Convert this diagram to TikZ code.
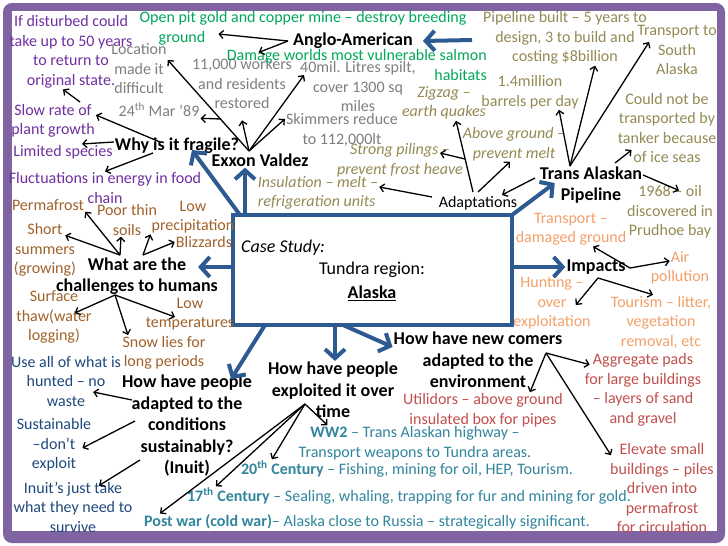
\documentclass[tikz,border=0pt]{standalone}
\usepackage{fontspec}
\setmainfont{Carlito}
\usetikzlibrary{arrows.meta}
\definecolor{framepurple}{HTML}{8064A2}
\definecolor{mapblue}{HTML}{2C5A91}
\definecolor{fragilepurple}{HTML}{7030A0}
\definecolor{anglogreen}{HTML}{00A85A}
\definecolor{exxongrey}{HTML}{7F7F7F}
\definecolor{pipeolive}{HTML}{948A54}
\definecolor{impactorange}{HTML}{F4A06A}
\definecolor{challbrown}{HTML}{A0622A}
\definecolor{inuitnavy}{HTML}{1F497D}
\definecolor{exploitteal}{HTML}{31859C}
\definecolor{newred}{HTML}{C0504D}

\begin{document}
\begin{tikzpicture}[x=1pt, y=-1pt,
    every node/.style={font=\fontsize{16}{19.5}\selectfont, inner sep=1pt, align=center},
    hub/.style={font=\fontsize{18}{21.5}\selectfont\bfseries},
    slant/.style={font=\fontsize{16}{19.5}\selectfont\itshape},
    boxtext/.style={font=\fontsize{18}{21.5}\selectfont},
    twig/.style={-{Straight Barb[length=4pt,width=8pt]}, line width=1.3pt, black},
    bough/.style={-{Straight Barb[length=9pt,width=20pt]}, line width=4pt, mapblue}]
        \useasboundingbox (0,0) rectangle (728,546);
        % Frame
        \fill[framepurple, rounded corners=9pt] (3,3) rectangle (725,543);
        \fill[white] (12,11) rectangle (717,531);
        % Case study box
        \node[draw=mapblue, line width=4pt, minimum width=279pt, minimum height=110pt, outer sep=0pt] (casebox) at (372.5,270) {};
        \node[boxtext, anchor=west, font=\fontsize{18}{21.5}\selectfont\itshape] (case) at (240,248) {Case Study:};
        \node[boxtext] (tundra) at (372,270) {Tundra region:};
        \node[hub] (alaska) at (372,293) {\underline{Alaska}};
        % Why is it fragile?
        \node[hub] (fragile) at (177,146) {Why is it fragile?};
        \node[fragilepurple] (dist) at (71,52) {If disturbed could\\take up to 50 years\\to return to\\original state.};
        \node[fragilepurple] (slow) at (53,121) {Slow rate of\\plant growth};
        \node[fragilepurple] (limited) at (63,152) {Limited species};
        \node[fragilepurple] (fluct) at (105,188) {Fluctuations in energy in food\\chain};
        % Exxon Valdez
        \node[hub] (exxon) at (260,160) {Exxon Valdez};
        \node[exxongrey] (loc) at (139,69) {Location\\made it\\difficult};
        \node[exxongrey] (mar) at (159,110) {24\textsuperscript{th} Mar ’89};
        \node[exxongrey] (rest) at (242,84) {11,000 workers\\and residents\\restored};
        \node[exxongrey] (litres) at (358,87) {40mil. Litres spilt,\\cover 1300 sq\\miles};
        \node[exxongrey] (skim) at (342,130) {Skimmers reduce\\to 112,000lt};
        % Anglo-American
        \node[hub] (anglo) at (353,41) {Anglo-American};
        \node[anglogreen] (open) at (303,18) {Open pit gold and copper mine -- destroy breeding};
        \node[anglogreen] (ground) at (182,38) {ground};
        \node[anglogreen, align=right, anchor=east] (dam) at (488,65) {Damage worlds most vulnerable salmon\\habitats};
        % Trans Alaskan Pipeline
        \node[hub] (pipe) at (591,185) {Trans Alaskan\\Pipeline};
        \node[pipeolive] (pb) at (565,38) {Pipeline built -- 5 years to\\design, 3 to build and\\costing \$8billion};
        \node[pipeolive] (south) at (677,50) {Transport to\\South\\Alaska};
        \node[pipeolive] (mill) at (530,92) {1.4million\\barrels per day};
        \node[pipeolive] (tank) at (667,128) {Could not be\\transported by\\tanker because\\of ice seas};
        \node[pipeolive] (oil) at (670,212) {1968 -- oil\\discovered in\\Prudhoe bay};
        % Adaptations
        \node (adapt) at (478,203) {Adaptations};
        \node[pipeolive, slant] (zig) at (444,103) {Zigzag --\\earth quakes};
        \node[pipeolive, slant] (above) at (514,144) {Above ground --\\prevent melt};
        \node[pipeolive, slant] (strong) at (400,160) {Strong pilings --\\prevent frost heave};
        \node[pipeolive, slant, align=left] (ins) at (318,193) {Insulation -- melt --\\refrigeration units};
        % Impacts
        \node[hub] (impacts) at (596,267) {Impacts};
        \node[impactorange] (dmg) at (571,229) {Transport --\\damaged ground};
        \node[impactorange] (air) at (680,268) {Air\\pollution};
        \node[impactorange] (hunt) at (552,303) {Hunting --\\over\\exploitation};
        \node[impactorange] (tour) at (661,322) {Tourism -- litter,\\vegetation\\removal, etc};
        % Challenges to humans
        \node[hub] (chall) at (137,276) {What are the\\challenges to humans};
        \node[challbrown] (perma) at (48,205) {Permafrost};
        \node[challbrown] (soils) at (127,220) {Poor thin\\soils};
        \node[challbrown] (prec) at (193,217) {Low\\precipitation};
        \node[challbrown] (bliz) at (204,242) {Blizzards};
        \node[challbrown] (short) at (45,250) {Short\\summers\\(growing)};
        \node[challbrown] (surf) at (54,317) {Surface\\thaw(water\\logging)};
        \node[challbrown] (temp) at (190,314) {Low\\temperatures};
        \node[challbrown] (snow) at (164,353) {Snow lies for\\long periods};
        % Inuit
        \node[hub] (inuit) at (187,426) {How have people\\adapted to the\\conditions\\sustainably?\\(Inuit)};
        \node[inuitnavy] (use) at (66,381) {Use all of what is\\hunted -- no\\waste};
        \node[inuitnavy] (dont) at (54,445) {Sustainable\\--don’t\\exploit};
        \node[inuitnavy] (inuits) at (73,507) {Inuit’s just take\\what they need to\\survive};
        % Exploitation over time
        \node[hub] (expl) at (333,390) {How have people\\exploited it over\\time};
        \node[exploitteal] (ww2) at (415,443) {\textbf{WW2} -- Trans Alaskan highway --\\Transport weapons to Tundra areas.};
        \node[exploitteal] (c20) at (407,469) {\textbf{20\textsuperscript{th} Century} -- Fishing, mining for oil, HEP, Tourism.};
        \node[exploitteal] (c17) at (409,496) {\textbf{17\textsuperscript{th} Century} -- Sealing, whaling, trapping for fur and mining for gold.};
        \node[exploitteal] (post) at (367,522) {\textbf{Post war (cold war)}-- Alaska close to Russia -- strategically significant.};
        % New comers
        \node[hub] (nc) at (478,360) {How have new comers\\adapted to the\\environment};
        \node[newred] (util) at (483,410) {Utilidors -- above ground\\insulated box for pipes};
        \node[newred] (agg) at (643,390) {Aggregate pads\\for large buildings\\-- layers of sand\\and gravel};
        \node[newred] (elev) at (662,488) {Elevate small\\buildings -- piles\\driven into\\permafrost\\for circulation};
        % Hubs of the thin arrows
        \coordinate (fr-a) at (160,142);
        \coordinate (fr-b) at (114,142);
        \coordinate (fr-c) at (153,153);
        \coordinate (slow-top) at (80,102);
        \coordinate (ev-hub) at (249,151);
        \coordinate (ev-fork) at (221,119);
        \coordinate (aa-hub) at (288,41);
        \coordinate (aa-in) at (472,40);
        \coordinate (tap-hub) at (570,166);
        \coordinate (tap-r) at (615,163);
        \coordinate (tap-e) at (643,175);
        \coordinate (tap-l) at (535,178);
        \coordinate (ad-a) at (473,192);
        \coordinate (ad-b) at (478,192);
        \coordinate (ad-c) at (432,197);
        \coordinate (ad-fork) at (465,159);
        \coordinate (imp-r) at (630,268);
        \coordinate (imp-b) at (598,278);
        \coordinate (ch-a) at (120,255);
        \coordinate (ch-b) at (143,255);
        \coordinate (ch-c) at (115,295);
        \coordinate (in-a) at (132,400);
        \coordinate (in-b) at (135,421);
        \coordinate (in-c) at (140,460);
        \coordinate (ex-hub) at (305,404);
        \coordinate (nc-hub) at (546,353);
        % Blue arrows
        \draw[bough] ([xshift=7pt]casebox.north west) -- ([xshift=15pt,yshift=5pt]fragile.south);
        \draw[bough] ([xshift=12pt]casebox.north west) -- ([xshift=-15pt]exxon.south);
        \draw[bough] ([yshift=3pt]casebox.west) -- ([xshift=-21pt,yshift=9pt]chall.east);
        \draw[bough] (casebox.north east) -- ([xshift=16pt,yshift=2pt]pipe.west);
        \draw[bough] ([yshift=3pt]casebox.east) -- (impacts.west);
        \draw[bough] ([xshift=32pt]casebox.south west) -- ([xshift=-22pt,yshift=-5pt]inuit.north east);
        \draw[bough] ([xshift=102pt]casebox.south west) -- ([xshift=2pt]expl.north);
        \draw[bough] ([xshift=110pt]casebox.south west) -- ([yshift=13pt]nc.west);
        \draw[bough] (aa-in) -- ([xshift=9pt]anglo.east);
        % Fragile arrows
        \draw[twig] (slow-top) -- ([xshift=-8pt]dist.south);
        \draw[twig] (fr-a) -- ([yshift=6pt]slow.east);
        \draw[twig] (fr-b) -- ([xshift=19pt]limited.north);
        \draw[twig] (fr-c) -- (fluct.north);
        % Exxon Valdez arrows
        \draw[twig] (ev-hub) -- ([yshift=9pt]loc.east);
        \draw[twig] (ev-fork) -- (mar.south east);
        \draw[twig] (ev-hub) -- ([yshift=-10pt]rest.south);
        \draw[twig] (ev-hub) -- ([xshift=5pt,yshift=12pt]litres.west);
        \draw[twig] (ev-hub) -- ([yshift=11pt]skim.west);
        % Anglo-American arrows
        \draw[twig] (aa-hub) -- ([xshift=12pt,yshift=4pt]ground.east);
        \draw[twig] (aa-hub) -- ([xshift=33pt,yshift=-4pt]dam.north west);
        % Pipeline arrows
        \draw[twig] (tap-hub) -- ([xshift=30pt]pb.south);
        \draw[twig] (tap-hub) -- ([xshift=13pt,yshift=8pt]south.west);
        \draw[twig] (tap-hub) -- ([xshift=29pt]mill.south);
        \draw[twig] (tap-r) -- ([xshift=15pt,yshift=-22pt]tank.west);
        \draw[twig] (tap-e) -- ([xshift=9pt,yshift=-6pt]oil.north);
        \draw[twig] (tap-l) -- ([xshift=24pt]adapt.north);
        % Adaptations arrows
        \draw[twig] (ad-a) -- ([xshift=12pt]zig.south);
        \draw[twig] (ad-fork) -- ([xshift=40pt,yshift=7pt]strong.center);
        \draw[twig] (ad-b) -- ([xshift=-4pt]above.south);
        \draw[twig] (ad-c) -- ([yshift=6pt]ins.east);
        % Impacts arrows
        \draw[twig] (imp-r) -- ([xshift=22pt]dmg.south);
        \draw[twig] (imp-r) -- ([xshift=20pt,yshift=7pt]air.west);
        \draw[twig] (imp-b) -- ([xshift=-16pt,yshift=-2pt]hunt.east);
        \draw[twig] (imp-b) -- ([xshift=-8pt]tour.north);
        % Challenges arrows
        \draw[twig] (ch-a) -- (perma.south east);
        \draw[twig] (ch-a) -- ([xshift=-12pt,yshift=-13pt]short.north east);
        \draw[twig] (ch-a) -- ([xshift=-6pt]soils.south);
        \draw[twig] (ch-b) -- (prec.south west);
        \draw[twig] (ch-b) -- (bliz.west);
        \draw[twig] (ch-c) -- ([xshift=-18pt,yshift=4pt]surf.east);
        \draw[twig] (ch-c) -- ([xshift=-36pt]snow.north);
        \draw[twig] (ch-c) -- ([xshift=-15pt,yshift=-3pt]temp.center);
        % Inuit arrows
        \draw[twig] (in-a) -- ([xshift=-29pt,yshift=-11pt]use.east);
        \draw[twig] (in-b) -- ([xshift=-10pt,yshift=-3pt]dont.east);
        \draw[twig] (in-c) -- ([xshift=26pt,yshift=-5pt]inuits.north);
        % Exploitation arrows
        \draw[twig] (ex-hub) -- ([xshift=30pt]ww2.north west);
        \draw[twig] (ex-hub) -- ([xshift=32pt]c20.north west);
        \draw[twig] (ex-hub) -- ([xshift=30pt]c17.north west);
        \draw[twig] (ex-hub) -- ([xshift=17pt]post.north west);
        % New comers arrows
        \draw[twig] (nc-hub) -- ([xshift=6pt,yshift=-12pt]agg.north west);
        \draw[twig] (nc-hub) -- ([xshift=47pt]util.north);
        \draw[twig] (nc-hub) -- ([xshift=2pt,yshift=-13pt]elev.north west);
      \end{tikzpicture}
\end{document}
